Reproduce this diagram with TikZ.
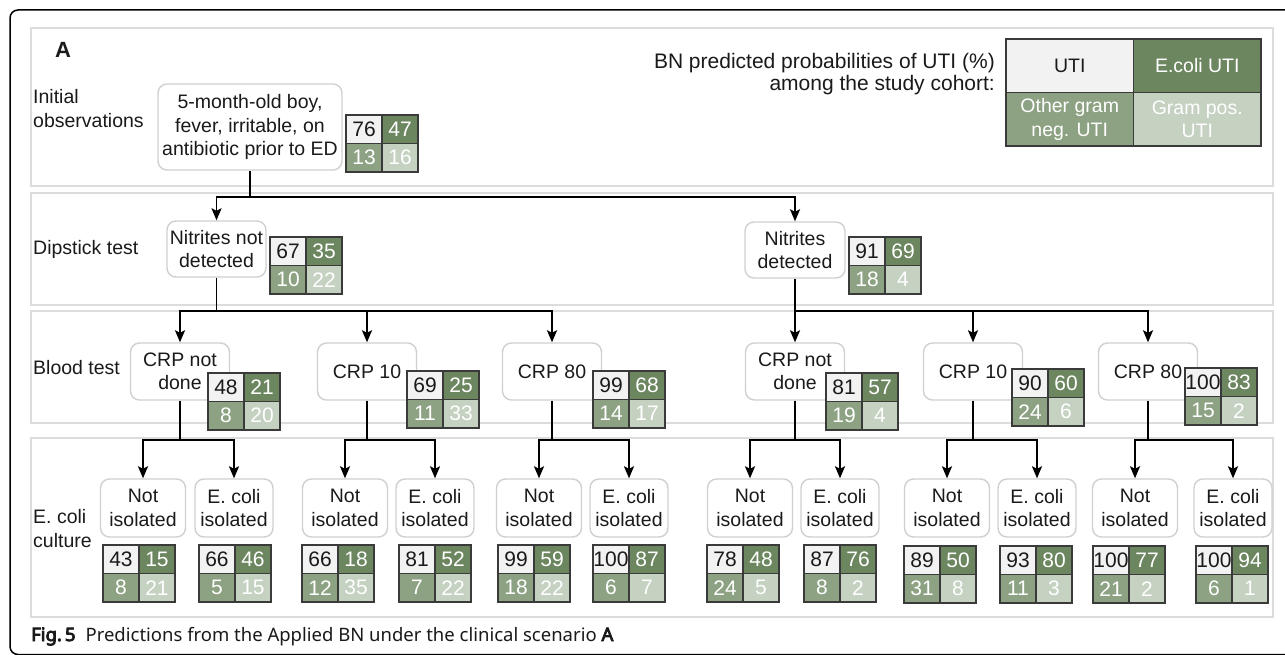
\documentclass[tikz,border=0pt]{standalone}
\usepackage{fontspec}
\setmainfont{Liberation Sans}
\newfontfamily\capfont{Noto Sans}
\newfontfamily\capbold{Noto Sans}[FakeBold=4.5]
\usetikzlibrary{arrows.meta}
\definecolor{cellA}{HTML}{F2F2F2}
\definecolor{cellB}{HTML}{6C8660}
\definecolor{cellC}{HTML}{8CA282}
\definecolor{cellD}{HTML}{C5D1C1}
\definecolor{bandgray}{HTML}{DCDCDC}
\definecolor{nodegray}{HTML}{D0D0D0}
\definecolor{gridline}{HTML}{3A3A3A}
\definecolor{txt}{HTML}{1A1A1A}
\newcommand\pgrid[7]{%
 \node[cA] (#1a) at (#2,#3) {#4};
 \node[cB] (#1b) at (#1a.north east) {#5};
 \node[cC] (#1c) at (#1a.south west) {#6};
 \node[cD] (#1d) at (#1a.south east) {#7};}
\begin{document}
\begin{tikzpicture}[x=1pt,y=-1pt,
 band/.style={draw=bandgray,line width=2pt},
 lbl/.style={anchor=west,align=left,inner sep=0,font=\fontsize{19.5pt}{24pt}\selectfont,text=txt},
 nd/.style={draw=nodegray,fill=white,line width=1.4pt,rounded corners=9pt,align=center,inner sep=0,font=\fontsize{19.5pt}{23.5pt}\selectfont,text=txt},
 crp/.style={nd,minimum width=99pt,minimum height=57pt},
 notn/.style={nd,minimum width=85pt,minimum height=58pt},
 ecn/.style={nd,minimum width=78pt,minimum height=58pt},
 cell/.style={draw=gridline,line width=1.3pt,minimum width=36pt,minimum height=28.5pt,inner sep=0,outer sep=0,anchor=north west,font=\fontsize{21pt}{21pt}\selectfont},
 cA/.style={cell,fill=cellA,text=txt},
 cB/.style={cell,fill=cellB,text=white},
 cC/.style={cell,fill=cellC,text=white},
 cD/.style={cell,fill=cellD,text=white},
 lg/.style={draw=gridline,line width=1.3pt,minimum width=127.5pt,minimum height=53.5pt,inner sep=0,outer sep=0,anchor=north west,align=center,font=\fontsize{19.5pt}{23.5pt}\selectfont},
 conn/.style={line width=1.8pt},
 arr/.style={conn,-{Stealth[length=12pt,width=10pt,inset=2.5pt]}}]
\useasboundingbox (0,0) rectangle (1285,655);
\fill[white] (0,0) rectangle (1285,655);
% outer frame
\draw[line width=1.5pt,rounded corners=8pt] (1300,10) -- (10,10) -- (10,654.5) -- (1300,654.5);
% bands
\draw[band] (31,28) rectangle (1273,186);
\draw[band] (31,193) rectangle (1273,305);
\draw[band] (31,311) rectangle (1273,423);
\draw[band] (31,438) rectangle (1273,617);
% row labels
\node[inner sep=0,font=\bfseries\fontsize{22pt}{22pt}\selectfont,text=txt] (lA) at (63,50) {A};
\node[lbl] (l1) at (33,108.5) {Initial\\observations};
\node[lbl] (l2) at (33,249) {Dipstick test};
\node[lbl] (l3) at (33,368) {Blood test};
\node[lbl] (l4) at (33,529) {E. coli\\culture};
% legend
\node[anchor=east,align=right,inner sep=0,font=\fontsize{21pt}{22pt}\selectfont,text=txt] (hdr) at (995,74) {BN predicted probabilities of UTI (\%)\\among the study cohort:};
\node[lg,fill=cellA,text=txt] (lgA) at (1006,39) {UTI};
\node[lg,fill=cellB,text=white] (lgB) at (lgA.north east) {E.coli UTI};
\node[lg,fill=cellC,text=white] (lgC) at (lgA.south west) {Other gram\\neg. UTI};
\node[lg,fill=cellD,text=white] (lgD) at (lgA.south east) {Gram pos.\\UTI};
% tree nodes
\node[nd,minimum width=184pt,minimum height=86pt] (init) at (250,127) {5-month-old boy,\\fever, irritable, on\\antibiotic prior to ED};
\node[nd,minimum width=99pt,minimum height=56pt] (nnd) at (216.5,249) {Nitrites not\\detected};
\node[nd,minimum width=100pt,minimum height=56pt] (ndt) at (795,250) {Nitrites\\detected};
\node[crp] (p1) at (180,371.5) {CRP not\\done};
\node[crp] (p2) at (367,371.5) {CRP 10};
\node[crp] (p3) at (552,371.5) {CRP 80};
\node[crp] (p4) at (795,371.5) {CRP not\\done};
\node[crp] (p5) at (973,371.5) {CRP 10};
\node[crp] (p6) at (1148,371.5) {CRP 80};
\node[notn] (c1n) at (143,508) {Not\\isolated};
\node[ecn] (c1e) at (234,508) {E. coli\\isolated};
\node[notn] (c2n) at (345,508) {Not\\isolated};
\node[ecn] (c2e) at (435,508) {E. coli\\isolated};
\node[notn] (c3n) at (539,508) {Not\\isolated};
\node[ecn] (c3e) at (629,508) {E. coli\\isolated};
\node[notn] (c4n) at (750,508) {Not\\isolated};
\node[ecn] (c4e) at (840,508) {E. coli\\isolated};
\node[notn] (c5n) at (947,508) {Not\\isolated};
\node[ecn] (c5e) at (1037,508) {E. coli\\isolated};
\node[notn] (c6n) at (1135,508) {Not\\isolated};
\node[ecn] (c6e) at (1233,508) {E. coli\\isolated};
% junctions
\coordinate (j0) at (250,197);
\coordinate (jL) at (216.5,311);
\coordinate (jR) at (795,311);
\coordinate (q1) at (180,440);
\coordinate (q2) at (367,440);
\coordinate (q3) at (552,440);
\coordinate (q4) at (795,440);
\coordinate (q5) at (973,440);
\coordinate (q6) at (1148,440);
% connectors
\draw[conn] (init) -- (j0);
\draw[arr] (j0) -| (nnd);
\draw[arr] (j0) -| (ndt);
\draw[conn] (nnd) -- (jL);
\draw[arr] (jL) -| (p1);
\draw[arr] (jL) -| (p2);
\draw[arr] (jL) -| (p3);
\draw[conn] (ndt) -- (jR);
\draw[arr] (jR) -- (p4);
\draw[arr] (jR) -| (p5);
\draw[arr] (jR) -| (p6);
\draw[conn] (p1) -- (q1); \draw[arr] (q1) -| (c1n); \draw[arr] (q1) -| (c1e);
\draw[conn] (p2) -- (q2); \draw[arr] (q2) -| (c2n); \draw[arr] (q2) -| (c2e);
\draw[conn] (p3) -- (q3); \draw[arr] (q3) -| (c3n); \draw[arr] (q3) -| (c3e);
\draw[conn] (p4) -- (q4); \draw[arr] (q4) -| (c4n); \draw[arr] (q4) -| (c4e);
\draw[conn] (p5) -- (q5); \draw[arr] (q5) -| (c5n); \draw[arr] (q5) -| (c5e);
\draw[conn] (p6) -- (q6); \draw[arr] (q6) -| (c6n); \draw[arr] (q6) -| (c6e);
% probability grids
\pgrid{g0}{346}{115}{76}{47}{13}{16}
\pgrid{gL}{270}{237}{67}{35}{10}{22}
\pgrid{gR}{849}{237}{91}{69}{18}{4}
\pgrid{gp1}{208}{373}{48}{21}{8}{20}
\pgrid{gp2}{407}{371}{69}{25}{11}{33}
\pgrid{gp3}{593}{371}{99}{68}{14}{17}
\pgrid{gp4}{826}{373}{81}{57}{19}{4}
\pgrid{gp5}{1012}{369}{90}{60}{24}{6}
\pgrid{gp6}{1185}{368}{100}{83}{15}{2}
\pgrid{gc1n}{103}{545}{43}{15}{8}{21}
\pgrid{gc1e}{199}{545}{66}{46}{5}{15}
\pgrid{gc2n}{302}{545}{66}{18}{12}{35}
\pgrid{gc2e}{399}{545}{81}{52}{7}{22}
\pgrid{gc3n}{498}{545}{99}{59}{18}{22}
\pgrid{gc3e}{593}{545}{100}{87}{6}{7}
\pgrid{gc4n}{707}{545}{78}{48}{24}{5}
\pgrid{gc4e}{804}{545}{87}{76}{8}{2}
\pgrid{gc5n}{904}{546}{89}{50}{31}{8}
\pgrid{gc5e}{1000}{546}{93}{80}{11}{3}
\pgrid{gc6n}{1093}{546}{100}{77}{21}{2}
\pgrid{gc6e}{1196}{546}{100}{94}{6}{1}
% caption
\node[anchor=base west,inner sep=0,font=\capfont\fontsize{18.5pt}{20pt}\selectfont,text=txt] (cap) at (31,641) {{\capbold Fig.\,5}\hspace{10pt}Predictions from the Applied BN under the clinical scenario {\capbold A}};
\end{tikzpicture}
\end{document}
